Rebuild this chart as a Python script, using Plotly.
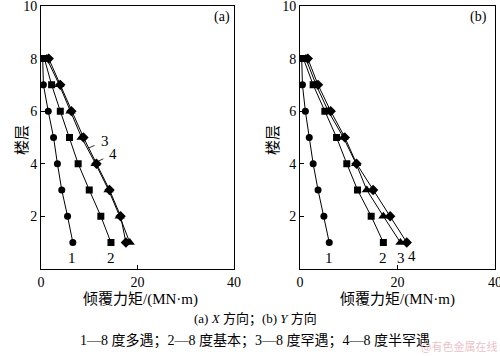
import plotly.graph_objects as go

floors = [8, 7, 6, 5, 4, 3, 2, 1]

# Panel (a): X direction
a_s1 = [0.35, 0.5, 1.5, 2.6, 3.4, 4.3, 5.5, 6.6]
a_s2 = [0.7, 2.2, 4.0, 5.9, 7.7, 10.0, 12.4, 14.5]
a_s3 = [1.2, 3.8, 6.1, 8.4, 11.3, 14.0, 16.3, 18.4]
a_s4 = [1.6, 4.0, 6.3, 8.8, 11.5, 14.2, 16.5, 17.6]

# Panel (b): Y direction
b_s1 = [0.35, 0.5, 1.1, 1.9, 2.7, 3.7, 4.9, 6.0]
b_s2 = [0.7, 2.7, 5.1, 7.5, 9.6, 11.8, 14.6, 17.1]
b_s3 = [1.2, 3.3, 5.8, 8.9, 11.5, 13.7, 17.1, 20.6]
b_s4 = [1.6, 3.7, 6.3, 9.2, 11.6, 15.0, 18.5, 21.9]

x_ticks = [0, 20, 40]
y_ticks = [2, 4, 6, 8, 10]
series_labels = ["1", "2", "3", "4"]

symbols = ["circle", "square", "triangle-up", "diamond"]
sizes = [7, 7, 9, 8]

SERIF = "Liberation Serif, Noto Sans CJK SC"
CJK = "Noto Sans CJK SC"

fig = go.Figure()
for panel, data, xa, ya in [("a", [a_s1, a_s2, a_s3, a_s4], "x", "y"),
                            ("b", [b_s1, b_s2, b_s3, b_s4], "x2", "y2")]:
    for i, xs in enumerate(data):
        fig.add_trace(go.Scatter(
            x=xs, y=floors, mode="lines+markers", xaxis=xa, yaxis=ya,
            line=dict(color="black", width=1),
            marker=dict(symbol=symbols[i], size=sizes[i], color="black"),
            showlegend=False, hoverinfo="skip"))

axis_common = dict(
    range=[0, 40], tickvals=x_ticks, ticks="inside", ticklen=4, tickcolor="black",
    showline=True, linecolor="black", linewidth=1, mirror=True, automargin=False,
    showgrid=False, zeroline=False, ticklabeloverflow="allow",
    tickfont=dict(family=SERIF, size=14, color="black"))
yaxis_common = dict(
    range=[0, 10], tickvals=y_ticks, ticks="inside", ticklen=4, tickcolor="black",
    showline=True, linecolor="black", linewidth=1, mirror=True, automargin=False,
    showgrid=False, zeroline=False, ticklabeloverflow="allow",
    tickfont=dict(family=SERIF, size=14, color="black"))

y_dom = [0.245, 0.983]
fig.update_layout(
    width=500, height=356,
    margin=dict(l=0, r=0, t=0, b=0),
    paper_bgcolor="white", plot_bgcolor="white",
    xaxis=dict(domain=[0.082, 0.468], anchor="y", **axis_common),
    yaxis=dict(domain=y_dom, anchor="x", **yaxis_common),
    xaxis2=dict(domain=[0.6, 0.99], anchor="y2", **axis_common),
    yaxis2=dict(domain=y_dom, anchor="x2", **yaxis_common),
)

ann = []
def txt(x, y, s, xref, yref, size=15, family=SERIF, **kw):
    ann.append(dict(x=x, y=y, xref=xref, yref=yref, text=s, showarrow=False,
                    xanchor=kw.pop("xanchor", "center"), yanchor="middle",
                    font=dict(family=family, size=size, color="black"), **kw))

# series number labels
txt(6.4, 0.42, "1", "x", "y")
txt(14.5, 0.42, "2", "x", "y")
txt(6.0, 0.42, "1", "x2", "y2")
txt(17.1, 0.42, "2", "x2", "y2")
txt(20.7, 0.42, "3", "x2", "y2")
txt(23.0, 0.48, "4", "x2", "y2")

# leader-line labels in panel (a)
ann.append(dict(x=9.9, y=4.6, xref="x", yref="y", ax=13.2, ay=4.86, axref="x", ayref="y",
                text="3", showarrow=True, arrowhead=0, arrowwidth=0.8, arrowcolor="black",
                standoff=0, startstandoff=5,
                font=dict(family=SERIF, size=15, color="black")))
ann.append(dict(x=11.9, y=4.1, xref="x", yref="y", ax=15.0, ay=4.36, axref="x", ayref="y",
                text="4", showarrow=True, arrowhead=0, arrowwidth=0.8, arrowcolor="black",
                standoff=0, startstandoff=5,
                font=dict(family=SERIF, size=15, color="black")))

# panel tags
txt(0.444, 1 - 17/356, "(a)", "paper", "paper", size=14)
txt(0.956, 1 - 17/356, "(b)", "paper", "paper", size=14)

# y axis titles
txt(20/500, 1 - 140/356, "楼层", "paper", "paper", size=15, family=CJK, textangle=-90)
txt(271/500, 1 - 140/356, "楼层", "paper", "paper", size=15, family=CJK, textangle=-90)

# x axis titles
txt(140/500, 1 - 299/356, "倾覆力矩/(MN·m)", "paper", "paper", size=15, family=SERIF)
txt(397/500, 1 - 299/356, "倾覆力矩/(MN·m)", "paper", "paper", size=15, family=SERIF)

# captions
txt(0.51, 1 - 319/356, "(a) <i>X</i> 方向；(b) <i>Y</i> 方向", "paper", "paper", size=13, family=SERIF)
txt(0.51, 1 - 340/356, "1—8 度多遇；2—8 度基本；3—8 度罕遇；4—8 度半罕遇", "paper", "paper", size=14, family=SERIF)

# watermark
ann.append(dict(x=499/500, y=0, xref="paper", yref="paper", text="@有色金属在线",
                showarrow=False, xanchor="right", yanchor="bottom",
                font=dict(family=CJK, size=11, color="rgba(230,170,180,0.75)")))

fig.update_layout(annotations=ann)
fig.write_html("out.html", config={"displayModeBar": False},
               post_script="document.body.style.margin='0';document.body.style.overflow='hidden';")
